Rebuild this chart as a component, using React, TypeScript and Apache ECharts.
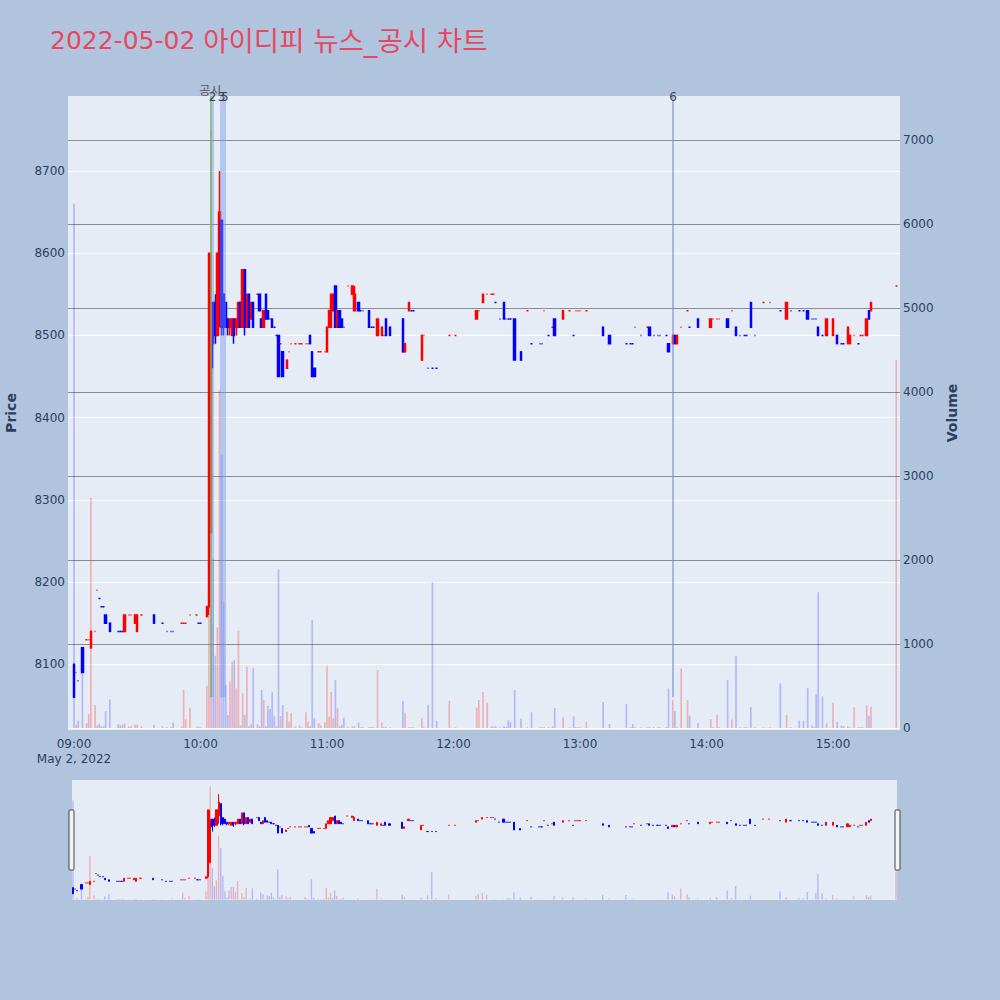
import React, { useEffect, useRef } from 'react';
import * as echarts from 'echarts';

// [time, open, close, low, high, volume]
type Row = [string, number, number, number, number, number];

const hour09: Row[] = [
  ['09:00', 8100, 8060, 8060, 8100, 6240],
  ['09:01', 8090, 8090, 8090, 8090, 40],
  ['09:02', 8080, 8080, 8080, 8080, 87],
  ['09:04', 8120, 8090, 8090, 8120, 690],
  ['09:06', 8130, 8130, 8130, 8130, 56],
  ['09:07', 8130, 8130, 8130, 8130, 163],
  ['09:08', 8120, 8140, 8120, 8140, 2740],
  ['09:10', 8140, 8140, 8140, 8140, 274],
  ['09:11', 8190, 8190, 8190, 8190, 30],
  ['09:12', 8180, 8180, 8180, 8180, 48],
  ['09:13', 8170, 8170, 8170, 8170, 20],
  ['09:14', 8170, 8170, 8170, 8170, 20],
  ['09:15', 8160, 8150, 8150, 8160, 202],
  ['09:17', 8150, 8140, 8140, 8150, 341],
  ['09:21', 8140, 8140, 8140, 8140, 48],
  ['09:22', 8140, 8140, 8140, 8140, 30],
  ['09:23', 8140, 8140, 8140, 8140, 40],
  ['09:24', 8140, 8160, 8140, 8160, 56],
  ['09:26', 8160, 8160, 8160, 8160, 20],
  ['09:27', 8160, 8160, 8160, 8160, 20],
  ['09:29', 8150, 8160, 8150, 8160, 40],
  ['09:30', 8140, 8160, 8140, 8160, 40],
  ['09:32', 8160, 8160, 8160, 8160, 20],
  ['09:38', 8160, 8150, 8150, 8160, 40],
  ['09:42', 8150, 8150, 8150, 8150, 20],
  ['09:44', 8140, 8140, 8140, 8140, 10],
  ['09:46', 8140, 8140, 8140, 8140, 10],
  ['09:47', 8140, 8140, 8140, 8140, 63],
  ['09:51', 8150, 8150, 8150, 8150, 20],
  ['09:52', 8150, 8150, 8150, 8150, 452],
  ['09:53', 8150, 8150, 8150, 8150, 103],
  ['09:55', 8160, 8160, 8160, 8160, 242],
  ['09:58', 8160, 8160, 8160, 8160, 10],
  ['09:59', 8150, 8150, 8150, 8150, 20],
];

const hour10: Row[] = [
  ['10:00', 8150, 8150, 8150, 8150, 10],
  ['10:03', 8158, 8170, 8158, 8170, 504],
  ['10:04', 8170, 8600, 8160, 8600, 3410],
  ['10:05', 8260, 8540, 8260, 8600, 7120],
  ['10:06', 8540, 8490, 8460, 8540, 2008],
  ['10:07', 8540, 8500, 8490, 8550, 860],
  ['10:08', 8500, 8600, 8500, 8600, 1200],
  ['10:09', 8560, 8650, 8510, 8700, 4020],
  ['10:10', 8640, 8510, 8500, 8640, 3250],
  ['10:11', 8550, 8510, 8500, 8550, 1504],
  ['10:12', 8540, 8510, 8510, 8540, 512],
  ['10:13', 8520, 8510, 8500, 8520, 155],
  ['10:14', 8510, 8520, 8500, 8520, 552],
  ['10:15', 8500, 8520, 8500, 8520, 790],
  ['10:16', 8520, 8500, 8490, 8520, 810],
  ['10:17', 8510, 8520, 8500, 8520, 472],
  ['10:18', 8510, 8540, 8510, 8540, 1159],
  ['10:19', 8540, 8510, 8510, 8540, 30],
  ['10:20', 8510, 8580, 8510, 8580, 413],
  ['10:21', 8580, 8510, 8500, 8580, 155],
  ['10:22', 8510, 8550, 8510, 8550, 730],
  ['10:23', 8550, 8510, 8510, 8550, 20],
  ['10:24', 8520, 8540, 8520, 8540, 48],
  ['10:25', 8540, 8510, 8510, 8540, 710],
  ['10:27', 8550, 8550, 8550, 8550, 48],
  ['10:28', 8550, 8530, 8530, 8550, 20],
  ['10:29', 8520, 8510, 8510, 8520, 452],
  ['10:30', 8510, 8530, 8510, 8530, 333],
  ['10:31', 8550, 8520, 8520, 8550, 20],
  ['10:32', 8530, 8520, 8520, 8530, 262],
  ['10:33', 8520, 8520, 8520, 8520, 226],
  ['10:34', 8520, 8510, 8510, 8520, 428],
  ['10:35', 8510, 8510, 8510, 8510, 143],
  ['10:36', 8500, 8500, 8500, 8500, 20],
  ['10:37', 8500, 8450, 8450, 8500, 1890],
  ['10:38', 8490, 8490, 8490, 8490, 143],
  ['10:39', 8480, 8450, 8450, 8480, 274],
  ['10:41', 8460, 8470, 8460, 8470, 194],
  ['10:42', 8480, 8480, 8480, 8480, 75],
  ['10:43', 8490, 8490, 8490, 8490, 175],
  ['10:45', 8490, 8490, 8490, 8490, 20],
  ['10:47', 8490, 8490, 8490, 8490, 30],
  ['10:48', 8490, 8490, 8490, 8490, 10],
  ['10:50', 8490, 8490, 8490, 8490, 187],
  ['10:51', 8490, 8490, 8490, 8490, 75],
  ['10:52', 8500, 8490, 8490, 8500, 20],
  ['10:53', 8480, 8450, 8450, 8480, 1286],
  ['10:54', 8460, 8450, 8450, 8460, 115],
  ['10:56', 8480, 8480, 8480, 8480, 60],
  ['10:57', 8480, 8480, 8480, 8480, 30],
  ['10:59', 8480, 8480, 8480, 8480, 64],
];

const hour11: Row[] = [
  ['11:00', 8480, 8510, 8480, 8510, 738],
  ['11:01', 8510, 8530, 8510, 8530, 135],
  ['11:02', 8510, 8550, 8510, 8550, 428],
  ['11:03', 8530, 8550, 8530, 8550, 115],
  ['11:04', 8560, 8510, 8510, 8560, 571],
  ['11:05', 8510, 8530, 8510, 8530, 234],
  ['11:06', 8530, 8510, 8510, 8530, 20],
  ['11:07', 8520, 8510, 8510, 8520, 40],
  ['11:08', 8510, 8510, 8510, 8510, 123],
  ['11:10', 8560, 8560, 8560, 8560, 10],
  ['11:12', 8550, 8560, 8550, 8560, 20],
  ['11:13', 8530, 8550, 8530, 8560, 20],
  ['11:15', 8540, 8530, 8530, 8540, 67],
  ['11:16', 8530, 8530, 8530, 8530, 10],
  ['11:17', 8530, 8530, 8530, 8530, 10],
  ['11:20', 8530, 8510, 8510, 8530, 10],
  ['11:21', 8510, 8510, 8510, 8510, 10],
  ['11:22', 8510, 8510, 8510, 8510, 10],
  ['11:24', 8500, 8520, 8500, 8520, 690],
  ['11:26', 8500, 8510, 8500, 8510, 67],
  ['11:27', 8500, 8500, 8500, 8500, 10],
  ['11:28', 8520, 8500, 8500, 8520, 10],
  ['11:30', 8510, 8500, 8500, 8510, 10],
  ['11:36', 8520, 8480, 8480, 8520, 321],
  ['11:37', 8480, 8490, 8480, 8490, 183],
  ['11:39', 8530, 8540, 8530, 8540, 10],
  ['11:40', 8530, 8530, 8530, 8530, 10],
  ['11:41', 8530, 8530, 8530, 8530, 10],
  ['11:45', 8470, 8500, 8470, 8500, 115],
  ['11:46', 8500, 8500, 8500, 8500, 10],
  ['11:48', 8460, 8460, 8460, 8460, 274],
  ['11:50', 8460, 8460, 8460, 8460, 1734],
  ['11:52', 8460, 8460, 8460, 8460, 83],
  ['11:58', 8500, 8500, 8500, 8500, 321],
];

const hour12: Row[] = [
  ['12:01', 8500, 8500, 8500, 8500, 10],
  ['12:11', 8520, 8530, 8520, 8530, 242],
  ['12:12', 8530, 8530, 8530, 8530, 333],
  ['12:14', 8540, 8550, 8540, 8550, 428],
  ['12:16', 8550, 8550, 8550, 8550, 302],
  ['12:18', 8550, 8550, 8550, 8550, 20],
  ['12:19', 8550, 8550, 8550, 8550, 20],
  ['12:20', 8540, 8540, 8540, 8540, 20],
  ['12:22', 8520, 8520, 8520, 8520, 10],
  ['12:24', 8540, 8520, 8520, 8540, 20],
  ['12:25', 8520, 8520, 8520, 8520, 10],
  ['12:26', 8520, 8520, 8520, 8520, 91],
  ['12:27', 8520, 8520, 8520, 8520, 71],
  ['12:29', 8520, 8470, 8470, 8520, 452],
  ['12:32', 8480, 8470, 8470, 8480, 111],
  ['12:35', 8530, 8530, 8530, 8530, 10],
  ['12:37', 8490, 8490, 8490, 8490, 187],
  ['12:41', 8490, 8490, 8490, 8490, 10],
  ['12:42', 8490, 8490, 8490, 8490, 10],
  ['12:43', 8530, 8530, 8530, 8530, 10],
  ['12:45', 8500, 8500, 8500, 8500, 10],
  ['12:47', 8510, 8510, 8510, 8510, 20],
  ['12:48', 8520, 8500, 8500, 8520, 238],
  ['12:52', 8520, 8530, 8520, 8530, 127],
  ['12:55', 8530, 8530, 8530, 8530, 10],
  ['12:57', 8500, 8500, 8500, 8500, 139],
  ['12:58', 8530, 8530, 8530, 8530, 10],
  ['12:59', 8530, 8530, 8530, 8530, 10],
];

const hour13: Row[] = [
  ['13:00', 8530, 8530, 8530, 8530, 10],
  ['13:03', 8530, 8530, 8530, 8530, 71],
  ['13:11', 8510, 8500, 8500, 8510, 310],
  ['13:14', 8500, 8490, 8490, 8500, 48],
  ['13:22', 8490, 8490, 8490, 8490, 286],
  ['13:24', 8490, 8490, 8490, 8490, 10],
  ['13:25', 8490, 8490, 8490, 8490, 48],
  ['13:26', 8510, 8510, 8510, 8510, 10],
  ['13:29', 8500, 8500, 8500, 8500, 10],
  ['13:32', 8510, 8510, 8510, 8510, 10],
  ['13:33', 8510, 8500, 8500, 8510, 10],
  ['13:35', 8500, 8500, 8500, 8500, 10],
  ['13:37', 8500, 8500, 8500, 8500, 10],
  ['13:38', 8500, 8500, 8500, 8500, 10],
  ['13:41', 8500, 8500, 8500, 8500, 10],
  ['13:42', 8490, 8480, 8480, 8490, 468],
  ['13:44', 8490, 8500, 8490, 8500, 333],
  ['13:45', 8500, 8490, 8490, 8500, 202],
  ['13:46', 8490, 8500, 8490, 8500, 10],
  ['13:48', 8510, 8510, 8510, 8510, 706],
  ['13:51', 8530, 8530, 8530, 8530, 333],
  ['13:52', 8510, 8510, 8510, 8510, 147],
  ['13:56', 8520, 8510, 8510, 8520, 56],
];

const hour14: Row[] = [
  ['14:02', 8510, 8520, 8510, 8520, 107],
  ['14:03', 8520, 8520, 8520, 8520, 10],
  ['14:05', 8520, 8520, 8520, 8520, 155],
  ['14:06', 8520, 8520, 8520, 8520, 10],
  ['14:10', 8520, 8510, 8510, 8520, 571],
  ['14:12', 8530, 8530, 8530, 8530, 103],
  ['14:14', 8510, 8500, 8500, 8510, 857],
  ['14:16', 8500, 8500, 8500, 8500, 10],
  ['14:18', 8500, 8500, 8500, 8500, 10],
  ['14:19', 8500, 8500, 8500, 8500, 10],
  ['14:21', 8540, 8510, 8510, 8540, 250],
  ['14:23', 8500, 8500, 8500, 8500, 10],
  ['14:27', 8540, 8540, 8540, 8540, 10],
  ['14:30', 8540, 8540, 8540, 8540, 10],
  ['14:35', 8530, 8530, 8530, 8530, 532],
  ['14:38', 8520, 8540, 8520, 8540, 155],
  ['14:40', 8530, 8530, 8530, 8530, 10],
  ['14:44', 8530, 8530, 8530, 8530, 87],
  ['14:46', 8530, 8530, 8530, 8530, 87],
  ['14:48', 8530, 8520, 8520, 8530, 476],
  ['14:50', 8520, 8520, 8520, 8520, 30],
  ['14:51', 8520, 8520, 8520, 8520, 10],
  ['14:52', 8520, 8520, 8520, 8520, 405],
  ['14:53', 8510, 8500, 8500, 8510, 1615],
  ['14:55', 8500, 8500, 8500, 8500, 377],
  ['14:57', 8500, 8520, 8500, 8520, 56],
];

const hour15: Row[] = [
  ['15:00', 8500, 8520, 8500, 8520, 302],
  ['15:02', 8500, 8490, 8490, 8500, 71],
  ['15:04', 8490, 8490, 8490, 8490, 30],
  ['15:05', 8490, 8490, 8490, 8490, 20],
  ['15:07', 8490, 8510, 8490, 8510, 20],
  ['15:08', 8490, 8500, 8490, 8500, 10],
  ['15:10', 8500, 8500, 8500, 8500, 246],
  ['15:12', 8490, 8490, 8490, 8490, 10],
  ['15:13', 8500, 8500, 8500, 8500, 10],
  ['15:14', 8500, 8500, 8500, 8500, 10],
  ['15:16', 8500, 8520, 8500, 8520, 270],
  ['15:17', 8530, 8520, 8520, 8530, 147],
  ['15:18', 8530, 8540, 8530, 8540, 254],
  ['15:30', 8560, 8560, 8560, 8560, 4380],
];

// news / disclosure markers
const annoTimes = ['10:04:40', '10:05:40', '10:10:00', '10:11:30', '13:44:10'];
const annoLabels = ['공시', '2', '3', '5', '6'];

const priceTicks = [8100, 8200, 8300, 8400, 8500, 8600, 8700];
const volumeTicks = [0, 1000, 2000, 3000, 4000, 5000, 6000, 7000];
const hourTicks = ['09:00', '10:00', '11:00', '12:00', '13:00', '14:00', '15:00'];
const dateLabel = 'May 2, 2022';
const titleDate = '2022-05-02';
const titleRest = '아이디피 뉴스_공시 차트';

const FONT = "'DejaVu Sans', 'Noto Sans CJK KR', sans-serif";
const AXIS_COLOR = '#2a3f5f';
const UP = '#FF0000';
const DOWN = '#0000FF';
const UP_VOL = 'rgba(255,0,0,0.25)';
const DOWN_VOL = 'rgba(0,0,255,0.22)';

const toHour = (t: string) => {
  const p = t.split(':').map(Number);
  return p[0] - 9 + p[1] / 60 + (p[2] || 0) / 3600;
};

export default function App() {
  const ref = useRef<HTMLDivElement>(null);

  useEffect(() => {
    if (!ref.current) return;
    const chart = echarts.init(ref.current, undefined, { renderer: 'svg' });

    const rows: Row[] = [...hour09, ...hour10, ...hour11, ...hour12, ...hour13, ...hour14, ...hour15];
    let prevClose = rows[0][2];
    let prevUp = false;
    const ups = rows.map((r, i) => {
      const o = r[1];
      const c = r[2];
      let up: boolean;
      if (c > o) up = true;
      else if (c < o) up = false;
      else if (i === 0) up = true;
      else if (c > prevClose) up = true;
      else if (c < prevClose) up = false;
      else up = prevUp;
      prevClose = c;
      prevUp = up;
      return up;
    });

    const candleData = rows.map((r, i) => {
      const col = ups[i] ? UP : DOWN;
      return {
        value: [toHour(r[0]), r[1], r[2], r[3], r[4]],
        itemStyle: { color: col, color0: col, borderColor: col, borderColor0: col },
      };
    });
    const volData = rows.map((r, i) => ({
      value: [toHour(r[0]), r[5]],
      itemStyle: { color: ups[i] ? UP_VOL : DOWN_VOL },
    }));

    const pMin = 8020.1;
    const pMax = 8791.2;
    const vMin = -23.8;
    const vMax = 7523.8;

    const annoColors = [
      'rgba(110,180,110,0.75)',
      'rgba(120,150,235,0.45)',
      'rgba(120,150,235,0.45)',
      'rgba(120,150,235,0.45)',
      'rgba(110,140,210,0.55)',
    ];

    const isHourTick = (v: number) => Math.abs(v - Math.round(v)) < 1e-6 && Math.round(v) >= 0 && Math.round(v) < hourTicks.length;

    const option: any = {
      animation: false,
      backgroundColor: '#B0C4DE',
      textStyle: { fontFamily: FONT },
      title: {
        text: '{d|' + titleDate + '} {k|' + titleRest + '}',
        left: 45,
        top: 22,
        textStyle: {
          color: '#E8485F',
          fontSize: 25,
          fontWeight: 'normal',
          fontFamily: FONT,
          rich: {
            d: { color: '#E8485F', fontSize: 25, fontFamily: FONT },
            k: { color: '#E8485F', fontSize: 27.5, fontFamily: FONT },
          },
        },
      },
      grid: [
        { left: 68, right: 100, top: 96, bottom: 270, show: true, backgroundColor: '#E5ECF6', borderWidth: 0, containLabel: false, outerBoundsMode: 'none' },
        { left: 72, right: 103, top: 780, height: 120, show: true, backgroundColor: '#E5ECF6', borderWidth: 0, containLabel: false, outerBoundsMode: 'none' },
      ],
      xAxis: [
        {
          type: 'value',
          gridIndex: 0,
          min: -0.0474,
          max: 6.5296,
          splitNumber: 7,
          axisLine: { show: false },
          axisTick: { show: false },
          splitLine: { show: false },
          axisLabel: {
            showMinLabel: false,
            showMaxLabel: false,
            margin: 6,
            fontSize: 12,
            color: AXIS_COLOR,
            fontFamily: FONT,
            lineHeight: 15,
            formatter: (v: number) => {
              if (!isHourTick(v)) return '';
              const k = Math.round(v);
              return k === 0 ? hourTicks[0] + '\n' + dateLabel : hourTicks[k];
            },
          },
        },
        { type: 'value', gridIndex: 1, min: -0.008, max: 6.508, show: false },
      ],
      yAxis: [
        {
          type: 'value',
          gridIndex: 0,
          position: 'left',
          min: pMin,
          max: pMax,
          splitNumber: 8,
          name: 'Price',
          nameLocation: 'middle',
          nameRotate: 90,
          nameGap: 50,
          nameTextStyle: { fontSize: 14, fontWeight: 'bold', color: AXIS_COLOR, fontFamily: FONT },
          axisLine: { show: false },
          axisTick: { show: false },
          splitLine: { show: true, showMinLine: false, showMaxLine: false, lineStyle: { color: '#ffffff', width: 1 } },
          axisLabel: {
            margin: 3,
            fontSize: 12,
            color: AXIS_COLOR,
            fontFamily: FONT,
            formatter: (v: number) => (priceTicks.indexOf(Math.round(v)) >= 0 && Math.abs(v - Math.round(v)) < 1e-6 ? String(Math.round(v)) : ''),
          },
        },
        {
          type: 'value',
          gridIndex: 0,
          position: 'right',
          min: vMin,
          max: vMax,
          splitNumber: 8,
          name: 'Volume',
          nameLocation: 'middle',
          nameRotate: 90,
          nameGap: 45,
          nameTextStyle: { fontSize: 14, fontWeight: 'bold', color: AXIS_COLOR, fontFamily: FONT },
          axisLine: { show: false },
          axisTick: { show: false },
          splitLine: {
            show: true,
            showMinLine: false,
            showMaxLine: false,
            lineStyle: { color: ['#ffffff', '#8c8c8c', '#8c8c8c', '#8c8c8c', '#8c8c8c', '#8c8c8c', '#8c8c8c', '#8c8c8c'], width: 1 },
          },
          axisLabel: {
            margin: 3,
            fontSize: 12,
            color: AXIS_COLOR,
            fontFamily: FONT,
            formatter: (v: number) => (volumeTicks.indexOf(Math.round(v)) >= 0 && Math.abs(v - Math.round(v)) < 1e-6 ? String(Math.round(v)) : ''),
          },
        },
        { type: 'value', gridIndex: 1, min: pMin, max: pMax, show: false, splitLine: { show: false } },
        { type: 'value', gridIndex: 1, min: vMin, max: vMax, show: false, splitLine: { show: false } },
      ],
      series: [
        {
          type: 'bar',
          name: 'Volume',
          xAxisIndex: 0,
          yAxisIndex: 1,
          barWidth: 1.7,
          data: volData,
          z: 1,
        },
        {
          type: 'candlestick',
          name: 'Price',
          xAxisIndex: 0,
          yAxisIndex: 0,
          barWidth: 2,
          itemStyle: { borderWidth: 1.5 },
          data: candleData,
          z: 2,
          markLine: {
            silent: true,
            symbol: ['none', 'none'],
            animation: false,
            data: annoTimes.map((t, i) => [
              {
                name: annoLabels[i],
                coord: [toHour(t), 8060],
                lineStyle: { color: annoColors[i], width: i === 2 || i === 3 ? 3 : 2, type: 'solid' },
                label: {
                  show: true,
                  position: 'end',
                  formatter: annoLabels[i],
                  distance: i === 0 ? -1 : -7,
                  color: i === 0 ? '#555555' : '#444444',
                  fontSize: 12,
                  fontFamily: FONT,
                },
              },
              { coord: [toHour(t), pMax] },
            ]),
          },
        },
        {
          type: 'bar',
          xAxisIndex: 1,
          yAxisIndex: 3,
          barWidth: 1.4,
          data: volData,
          z: 1,
        },
        {
          type: 'candlestick',
          xAxisIndex: 1,
          yAxisIndex: 2,
          barWidth: 1.6,
          itemStyle: { borderWidth: 1 },
          data: candleData,
          z: 2,
        },
      ],
      graphic: [
        { type: 'rect', shape: { x: 69, y: 810, width: 5, height: 60, r: 1 }, style: { fill: '#f4f4f4', stroke: '#444444', lineWidth: 1 }, z: 100 },
        { type: 'rect', shape: { x: 895, y: 810, width: 5, height: 60, r: 1 }, style: { fill: '#f4f4f4', stroke: '#444444', lineWidth: 1 }, z: 100 },
      ],
    };

    chart.setOption(option);
    return () => chart.dispose();
  }, []);

  return <div ref={ref} style={{ position: 'absolute', left: 0, top: 0, width: 1000, height: 1000 }} />;
}
